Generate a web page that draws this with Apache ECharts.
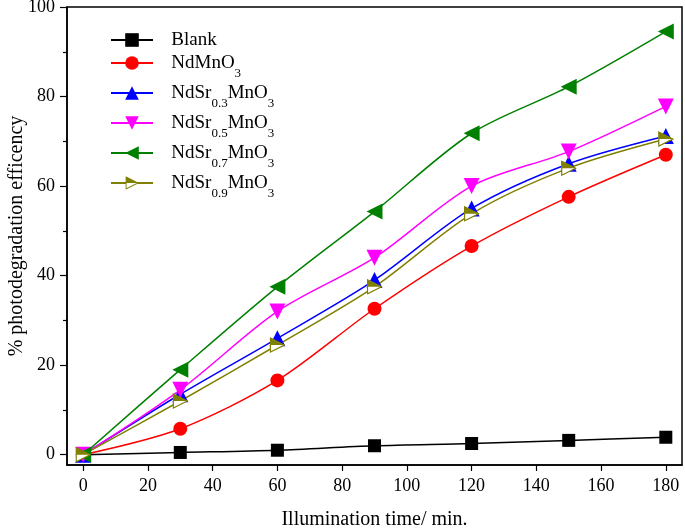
<!DOCTYPE html>
<html>
<head>
<meta charset="utf-8">
<script src="https://cdn.jsdelivr.net/npm/echarts@6/dist/echarts.min.js"></script>
<style>
    html, body { margin: 0; padding: 0; background: #fff; }
    #chart { width: 685px; height: 530px; }
</style>
</head>
<body>
<div id="chart"></div>
<script>
    // x values (min)
    var times = [0, 30, 60, 90, 120, 150, 180];
    var blank = [0, 0.5, 1, 2, 2.5, 3.2, 3.9];
    var ndMn = [0, 5.8, 16.6, 32.6, 46.6, 57.6, 67];
    var sr03 = [0, 13.5, 26, 39, 55, 65, 71.2];
    var sr05 = [0, 14.5, 32, 44, 60, 67.7, 77.8];
    var sr07 = [0, 19, 37.5, 54.3, 71.8, 82.2, 94.5];
    var sr09 = [0, 12, 24.5, 37.5, 53.8, 64, 70.5];
    var names = ['Blank', 'NdMnO3', 'NdSr0.3MnO3', 'NdSr0.5MnO3', 'NdSr0.7MnO3', 'NdSr0.9MnO3'];
    var xTicks = [0, 20, 40, 60, 80, 100, 120, 140, 160, 180];
    var yTicks = [0, 20, 40, 60, 80, 100];
    var yMinor = [10, 30, 50, 70, 90];

    var font = 'Liberation Serif';

    function pairs(ys) {
        var out = [];
        for (var i = 0; i < times.length; i++) {
            out.push([times[i], ys[i]]);
        }
        return out;
    }

    var olive = '#808000';
    var halfTri = "<svg xmlns='http://www.w3.org/2000/svg' width='16' height='16'>" +
        "<polygon points='1,1 15,8 1,15' fill='white' stroke='" + olive + "' stroke-width='1.2'/>" +
        "<polygon points='1,1 15,8 1,8' fill='" + olive + "'/></svg>";
    var halfTriSymbol = 'image://data:image/svg+xml;charset=utf-8,' + encodeURIComponent(halfTri);

    function mkSeries(name, ys, color, symbol, size) {
        return {
            name: name,
            type: 'line',
            data: pairs(ys),
            smooth: 0.3,
            symbol: symbol,
            symbolSize: size,
            showAllSymbol: true,
            lineStyle: {color: color, width: 1.5},
            itemStyle: {color: color, borderWidth: 0},
            emphasis: {disabled: true},
            animation: false
        };
    }

    var chart = echarts.init(document.getElementById('chart'));

    var option = {
        backgroundColor: '#fff',
        animation: false,
        grid: {
            left: 67, right: 3, top: 7, bottom: 65,
            outerBoundsMode: 'none',
            containLabel: false,
            show: true, borderColor: '#000', borderWidth: 1.5
        },
        legend: {
            left: 110,
            top: 31,
            padding: 0,
            orient: 'vertical',
            itemWidth: 42,
            itemHeight: 17,
            itemGap: 4,
            data: names,
            formatter: function (n) {
                var m = n.match(/^NdSr([0-9.]+)MnO3$/);
                var body;
                if (m) {
                    body = '{n|NdSr}{s|' + m[1] + '}{n|MnO}{s|3}';
                } else if (n === 'NdMnO3') {
                    body = '{n|NdMnO}{s|3}';
                } else {
                    body = '{n|' + n + '}';
                }
                return '{h| }' + body;
            },
            textStyle: {
                padding: [8, 0, 0, 13],
                rich: {
                    h: {fontSize: 1, lineHeight: 26, verticalAlign: 'top'},
                    n: {fontFamily: font, fontSize: 19, color: '#000', lineHeight: 20, verticalAlign: 'top'},
                    s: {fontFamily: font, fontSize: 13, color: '#000', lineHeight: 12, verticalAlign: 'bottom'}
                }
            }
        },
        xAxis: {
            type: 'value',
            min: -5,
            max: 185,
            name: 'Illumination time/ min.',
            nameLocation: 'middle',
            nameGap: 45,
            nameMoveOverlap: false,
            nameTextStyle: {fontFamily: font, fontSize: 20, color: '#000'},
            splitLine: {show: false},
            axisLine: {show: true, onZero: false, lineStyle: {color: '#000', width: 1.5}},
            axisTick: {show: true, inside: false, length: 6, customValues: xTicks, lineStyle: {color: '#000', width: 1.2}},
            axisLabel: {fontFamily: font, fontSize: 18, color: '#000', margin: 12, customValues: xTicks}
        },
        yAxis: [{
            type: 'value',
            min: -2.3,
            max: 100,
            name: '% photodegradation efficency',
            nameLocation: 'middle',
            nameGap: 40,
            nameMoveOverlap: false,
            nameTextStyle: {fontFamily: font, fontSize: 20, color: '#000'},
            splitLine: {show: false},
            axisLine: {show: true, onZero: false, lineStyle: {color: '#000', width: 1.5}},
            axisTick: {show: true, inside: false, length: 7, customValues: yTicks, lineStyle: {color: '#000', width: 1.2}},
            axisLabel: {fontFamily: font, fontSize: 18, color: '#000', margin: 12, customValues: yTicks}
        }, {
            type: 'value',
            position: 'left',
            min: -2.3,
            max: 100,
            splitLine: {show: false},
            axisLine: {show: false, onZero: false},
            axisTick: {show: true, inside: false, length: 4, customValues: yMinor, lineStyle: {color: '#000', width: 1.2}},
            axisLabel: {show: false, customValues: yMinor}
        }],
        series: [
            mkSeries(names[0], blank, '#000000', 'rect', 13),
            mkSeries(names[1], ndMn, '#ff0000', 'circle', 14),
            mkSeries(names[2], sr03, '#0000ff', 'triangle', 16),
            mkSeries(names[3], sr05, '#ff00ff', 'path://M0,0 L20,0 L10,18 Z', 16),
            mkSeries(names[4], sr07, '#008000', 'path://M0,9 L18,0 L18,18 Z', 16),
            mkSeries(names[5], sr09, olive, halfTriSymbol, 16)
        ]
    };

    chart.setOption(option);
</script>
</body>
</html>
